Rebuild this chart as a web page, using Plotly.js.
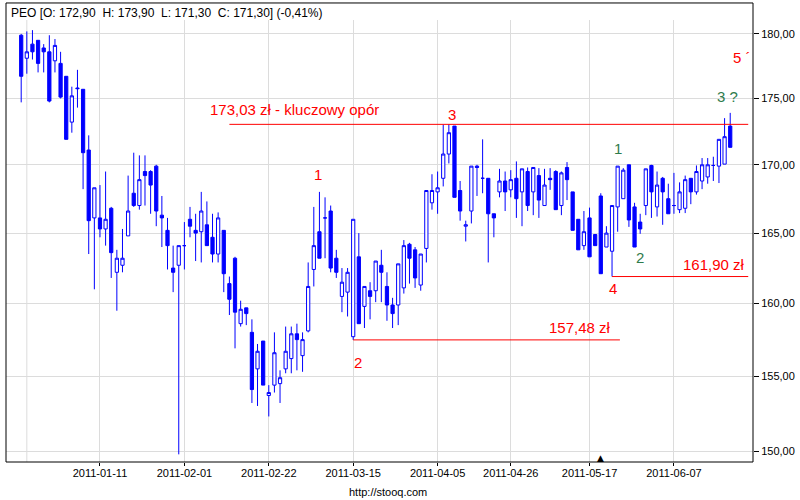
<!DOCTYPE html>
<html>
<head>
<meta charset="utf-8">
<script src="https://cdn.plot.ly/plotly-3.0.1.min.js"></script>
<style>
  html, body { margin: 0; padding: 0; background: #fff; }
  #chart { width: 800px; height: 500px; }
</style>
</head>
<body>
<div id="chart"></div>
<script>
// PEO daily candles, trading days only
const dates = [
  '2010-12-20', '2010-12-21', '2010-12-22', '2010-12-23', '2010-12-27', '2010-12-28', '2010-12-29', '2010-12-30', '2010-12-31',
  '2011-01-03', '2011-01-04', '2011-01-05', '2011-01-07', '2011-01-10', '2011-01-11', '2011-01-12', '2011-01-13', '2011-01-14',
  '2011-01-17', '2011-01-18', '2011-01-19', '2011-01-20', '2011-01-21', '2011-01-24', '2011-01-25', '2011-01-26', '2011-01-27',
  '2011-01-28', '2011-01-31',
  '2011-02-01', '2011-02-02', '2011-02-03', '2011-02-04', '2011-02-07', '2011-02-08', '2011-02-09', '2011-02-10', '2011-02-11',
  '2011-02-14', '2011-02-15', '2011-02-16', '2011-02-17', '2011-02-18', '2011-02-21', '2011-02-22', '2011-02-23', '2011-02-24',
  '2011-02-25', '2011-02-28',
  '2011-03-01', '2011-03-02', '2011-03-03', '2011-03-04', '2011-03-07', '2011-03-08', '2011-03-09', '2011-03-10', '2011-03-11',
  '2011-03-14', '2011-03-15', '2011-03-16', '2011-03-17', '2011-03-18', '2011-03-21', '2011-03-22', '2011-03-23', '2011-03-24',
  '2011-03-25', '2011-03-28', '2011-03-29', '2011-03-30', '2011-03-31',
  '2011-04-01', '2011-04-04', '2011-04-05', '2011-04-06', '2011-04-07', '2011-04-08', '2011-04-11', '2011-04-12', '2011-04-13',
  '2011-04-14', '2011-04-15', '2011-04-18', '2011-04-19', '2011-04-20', '2011-04-21', '2011-04-26', '2011-04-27', '2011-04-28',
  '2011-04-29',
  '2011-05-02', '2011-05-04', '2011-05-05', '2011-05-06', '2011-05-09', '2011-05-10', '2011-05-11', '2011-05-12', '2011-05-13',
  '2011-05-16', '2011-05-17', '2011-05-18', '2011-05-19', '2011-05-20', '2011-05-23', '2011-05-24', '2011-05-25', '2011-05-26',
  '2011-05-27', '2011-05-30', '2011-05-31',
  '2011-06-01', '2011-06-02', '2011-06-03', '2011-06-06', '2011-06-07', '2011-06-08', '2011-06-09', '2011-06-10', '2011-06-13',
  '2011-06-14', '2011-06-15', '2011-06-16', '2011-06-17', '2011-06-20', '2011-06-21',
];

const open = [
  179.9, 178.1, 179.2, 179.5, 178.9, 178.6, 177.9, 177.7, 176.7,
  173.2, 175.8, 175.7, 171.1, 166.1, 166.1, 165.3, 166.8, 162.2, 162.7, 164.8,
  167.9, 167.0, 169.5, 169.5, 169.9, 166.3, 165.2, 162.5, 162.7,
  164.1, 166.0, 165.2, 165.1, 165.6, 164.7, 163.5, 165.2, 161.4, 163.2,
  158.6, 159.7, 158.0, 155.5, 157.4, 153.7, 154.4, 154.5, 155.5, 156.2,
  157.9, 156.4, 158.1, 162.4, 165.1, 166.1, 166.6, 163.2, 160.5, 160.8,
  157.7, 163.3, 159.8, 160.9, 160.9, 162.7, 161.2, 159.9, 159.9, 161.1,
  164.2, 163.8, 161.3,
  163.9, 167.2, 168.0, 169.0, 170.8, 172.9, 168.1, 165.5, 166.6, 169.9,
  169.0, 169.0, 166.4, 168.0, 168.8, 168.15, 169.0, 168.0, 169.5,
  168.0, 169.2, 167.0, 169.0, 169.5, 167.0, 169.8, 168.0, 166.0, 164.1,
  166.1, 164.9, 167.7, 164.0, 163.7, 166.9, 167.5, 170.0, 166.9, 165.8, 167.0,
  169.95, 166.9, 169.0, 167.5, 167.0, 166.7, 166.8, 169.0, 168.0, 168.8,
  169.1, 169.95, 169.9, 170.05, 172.9,
];

const high = [
  180.0, 180.2, 180.3, 179.5, 179.2, 179.9, 179.6, 178.6, 176.7,
  175.9, 177.2, 175.7, 172.2, 168.3, 168.5, 169.5, 166.9, 163.8, 165.3, 169.2,
  170.9, 170.7, 170.7, 169.6, 170.0, 167.7, 166.1, 164.1, 164.1,
  165.8, 166.9, 166.4, 168.0, 167.3, 166.4, 166.5, 165.2, 161.9, 163.3,
  160.2, 159.7, 158.9, 157.2, 157.4, 154.4, 158.0, 155.4, 158.4, 158.4,
  158.6, 158.0, 162.9, 166.9, 168.0, 167.6, 167.0, 163.8, 162.5, 162.5,
  166.0, 165.0, 161.2, 161.5, 163.0, 163.8, 162.2, 160.4, 162.8, 164.5,
  164.3, 164.0, 163.5,
  168.1, 169.3, 169.5, 173.0, 173.03, 172.9, 168.8, 165.9, 169.9, 170.0,
  171.9, 169.0, 166.4, 169.7, 169.5, 169.6, 170.25, 169.7, 169.8,
  169.8, 169.75, 169.7, 169.75, 169.6, 169.5, 170.2, 168.0, 166.0, 166.6,
  166.85, 164.9, 167.9, 165.5, 167.0, 169.9, 169.75, 170.0, 167.2, 166.4, 169.7,
  170.0, 169.5, 169.1, 168.6, 169.4, 168.7, 169.2, 169.0, 169.95, 170.5,
  170.5, 170.6, 171.9, 173.5, 173.9,
];

const low = [
  174.7, 176.9, 178.0, 177.0, 177.0, 174.7, 177.0, 175.0, 171.9,
  172.4, 174.3, 168.2, 163.5, 161.0, 164.7, 164.1, 161.8, 159.5, 162.2, 164.8,
  166.9, 166.7, 167.0, 166.4, 165.5, 164.0, 162.4, 160.8, 149.8,
  162.4, 164.7, 163.0, 162.9, 164.1, 162.9, 162.9, 160.8, 159.2, 156.9,
  158.4, 158.5, 153.2, 153.0, 154.4, 152.3, 153.9, 153.2, 155.2, 155.2,
  155.4, 155.3, 158.0, 161.2, 163.2, 163.2, 162.2, 161.8, 159.4, 159.1,
  157.48, 158.6, 158.3, 158.9, 160.1, 160.1, 158.8, 158.3, 158.5, 160.7,
  161.4, 161.1, 160.9,
  162.9, 166.7, 166.4, 168.4, 170.1, 167.6, 165.9, 164.4, 165.7, 167.7,
  167.9, 162.9, 164.7, 167.6, 166.6, 167.6, 166.1, 165.5, 166.6,
  166.3, 166.1, 167.0, 168.15, 166.7, 166.3, 167.4, 165.2, 163.8, 163.8,
  163.3, 164.1, 162.1, 164.0, 161.9, 165.1, 167.5, 165.45, 164.0, 164.95, 166.3,
  166.1, 166.2, 165.6, 166.4, 166.4, 166.45, 166.45, 167.1, 167.8, 168.2,
  168.6, 168.8, 168.65, 170.05, 171.3,
];

const close = [
  176.7, 178.6, 178.6, 177.7, 178.6, 174.8, 179.1, 175.1, 171.9,
  175.2, 175.75, 170.9, 165.9, 168.3, 165.3, 166.0, 163.6, 163.2, 163.2, 166.6,
  167.0, 168.9, 169.2, 168.5, 166.6, 166.1, 164.1, 162.2, 164.1,
  164.1, 165.5, 165.0, 166.6, 164.1, 163.5, 166.1, 162.1, 160.3, 159.4,
  159.6, 159.3, 154.1, 156.7, 154.4, 153.9, 156.6, 154.9, 156.7, 157.9,
  157.5, 157.5, 161.2, 164.1, 163.2, 166.1, 162.5, 162.2, 161.5, 162.2,
  166.0, 158.6, 161.2, 160.5, 163.0, 162.2, 159.9, 159.3, 162.8, 164.1,
  163.2, 161.8, 163.5,
  168.1, 168.1, 168.3, 170.8, 172.4, 167.6, 166.6, 165.6, 169.9, 169.8,
  169.0, 166.4, 166.1, 168.8, 168.0, 168.9, 167.5, 169.7, 167.0,
  169.8, 167.4, 168.5, 168.9, 166.7, 169.4, 168.9, 165.2, 163.8, 165.1,
  163.3, 164.1, 162.1, 165.0, 167.0, 169.9, 169.6, 165.95, 164.0, 165.3, 169.7,
  168.0, 168.5, 168.0, 166.4, 167.0, 168.0, 168.9, 168.0, 169.5, 170.0,
  170.0, 169.95, 171.9, 172.1, 171.3,
];

const priceTicks = [150, 155, 160, 165, 170, 175, 180];
const priceTickLabels = ['150,00', '155,00', '160,00', '165,00', '170,00', '175,00', '180,00'];
const dateTicks = ['2011-01-11', '2011-02-01', '2011-02-22', '2011-03-15', '2011-04-05', '2011-04-26', '2011-05-17', '2011-06-07'];
// first grid column has no label (its label would fall off the left edge)
const unlabelledGridDate = '2010-12-21';

// support / resistance levels drawn by the author
const resistance = 173.03;
const support1 = 157.48;
const support2 = 161.90;

const headerText = 'PEO [O: 172,90\u00a0\u00a0H: 173,90\u00a0\u00a0L: 171,30\u00a0\u00a0C: 171,30] (-0,41%)';

const RED = '#ff0000';
const GREEN = '#2e7b4c';
const BLUE = '#0000ff';
const GRID = '#dcdcdc';
const FONT = 'Arial, "Liberation Sans", sans-serif';

const lg = Math.log10;
const lastIdx = dates.length - 1;

const trace = {
  type: 'candlestick',
  x: dates,
  open: open,
  high: high,
  low: low,
  close: close,
  increasing: { line: { color: BLUE, width: 1 }, fillcolor: '#ffffff' },
  decreasing: { line: { color: BLUE, width: 1 }, fillcolor: BLUE },
  whiskerwidth: 0,
  hoverinfo: 'skip',
  showlegend: false,
};

function label(text, x, y, color, opts = {}) {
  return {
    text: text, x: x, y: lg(y), xref: 'x', yref: 'y',
    showarrow: false,
    font: { family: FONT, size: 15, color: color },
    ...opts,
  };
}

const layout = {
  width: 800,
  height: 500,
  paper_bgcolor: '#ffffff',
  plot_bgcolor: '#ffffff',
  margin: { l: 6, r: 47, t: 20, b: 38 },
  font: { family: FONT, size: 11, color: '#000' },
  showlegend: false,
  boxgap: 0.18,
  xaxis: {
    type: 'category',
    range: [-2.7, 130.05],
    tickvals: dateTicks,
    ticktext: dateTicks,
    ticks: 'outside',
    ticklen: 3,
    tickcolor: '#000',
    ticklabelstandoff: -2,
    tickfont: { family: FONT, size: 11, color: '#000' },
    showgrid: true,
    gridcolor: GRID,
    gridwidth: 1,
    zeroline: false,
    showline: false,
    rangeslider: { visible: false },
    fixedrange: true,
  },
  yaxis: {
    type: 'log',
    side: 'right',
    range: [lg(149.3), lg(181.1)],
    tickvals: priceTicks,
    ticktext: priceTickLabels,
    ticks: 'outside',
    ticklen: 5,
    tickcolor: '#000',
    tickfont: { family: FONT, size: 11, color: '#000' },
    showgrid: true,
    gridcolor: GRID,
    gridwidth: 1,
    zeroline: false,
    showline: false,
    fixedrange: true,
  },
  shapes: [
    { type: 'line', layer: 'below', xref: 'x', yref: 'paper', x0: unlabelledGridDate, x1: unlabelledGridDate,
      y0: 0, y1: 1, line: { color: GRID, width: 1 } },
    // outer frame, goes up past the grid to hold the header line
    { type: 'rect', xref: 'paper', yref: 'paper', x0: 0, x1: 1, y0: 0, y1: 1.0385,
      line: { color: '#000', width: 1 } },
    { type: 'line', xref: 'x', yref: 'y', x0: dates[37], x1: 129.2, y0: resistance, y1: resistance,
      line: { color: RED, width: 1 } },
    { type: 'line', xref: 'x', yref: 'y', x0: dates[59], x1: 106.4, y0: support1, y1: support1,
      line: { color: RED, width: 1 } },
    { type: 'line', xref: 'x', yref: 'y', x0: dates[105], x1: 129.2, y0: support2, y1: support2,
      line: { color: RED, width: 1 } },
  ],
  annotations: [
    { text: headerText, xref: 'paper', yref: 'paper', x: 0, y: 1, xanchor: 'left', yanchor: 'middle',
      xshift: 3, yshift: 7, showarrow: false, font: { family: FONT, size: 12, color: '#000' } },
    { text: 'http://stooq.com', xref: 'paper', yref: 'paper', x: 0.511, y: 0, yanchor: 'middle',
      yshift: -30, showarrow: false, font: { family: FONT, size: 11, color: '#000' } },
    { text: '\u25b2', xref: 'x', yref: 'paper', x: dates[103], y: 0, yanchor: 'bottom', yshift: -3,
      showarrow: false, font: { family: '"DejaVu Sans", sans-serif', size: 9, color: '#000' } },
    label('173,03 zł - kluczowy opór', 48.5, 174.17, RED),
    label('1', 52.7, 169.25, RED),
    label('2', 59.8, 155.96, RED),
    label('3', 76.6, 173.77, RED),
    label('157,48 zł', 99.3, 158.37, RED),
    label('4', 105.2, 161.04, RED),
    label('161,90 zł', 123.1, 162.75, RED),
    label('1', 106.1, 171.22, GREEN),
    label('2', 110.0, 163.23, GREEN),
    label('3 ?', 125.6, 175.16, GREEN),
    label('5 \u00b4', lastIdx, 178.15, RED, { xanchor: 'left', xshift: 1 }),
  ],
};

Plotly.newPlot('chart', [trace], layout, { staticPlot: true, displayModeBar: false });
</script>
</body>
</html>
